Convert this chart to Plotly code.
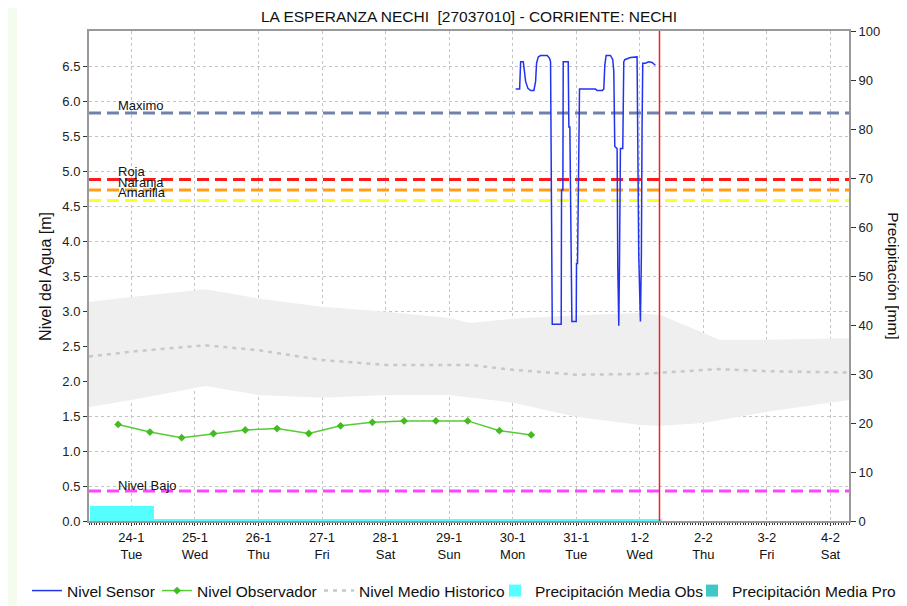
import plotly.graph_objects as go

# ---------------- data ----------------
title_text = "LA ESPERANZA NECHI  [27037010] - CORRIENTE: NECHI"

day_ticks = ["2017-01-24", "2017-01-25", "2017-01-26", "2017-01-27", "2017-01-28", "2017-01-29",
             "2017-01-30", "2017-01-31", "2017-02-01", "2017-02-02", "2017-02-03", "2017-02-04"]
day_labels = ["24-1<br>Tue", "25-1<br>Wed", "26-1<br>Thu", "27-1<br>Fri", "28-1<br>Sat", "29-1<br>Sun",
              "30-1<br>Mon", "31-1<br>Tue", "1-2<br>Wed", "2-2<br>Thu", "3-2<br>Fri", "4-2<br>Sat"]

sensor_time = [
    "2017-01-30 01:07", "2017-01-30 02:37", "2017-01-30 03:00", "2017-01-30 04:00", "2017-01-30 04:53",
    "2017-01-30 05:45", "2017-01-30 06:46", "2017-01-30 08:01", "2017-01-30 08:39", "2017-01-30 09:01",
    "2017-01-30 09:39", "2017-01-30 10:32", "2017-01-30 13:03", "2017-01-30 13:55", "2017-01-30 14:18",
    "2017-01-30 14:41", "2017-01-30 14:56", "2017-01-30 18:19", "2017-01-30 18:27", "2017-01-30 18:57",
    "2017-01-30 19:05", "2017-01-30 20:58", "2017-01-30 21:13", "2017-01-30 21:35", "2017-01-30 21:58",
    "2017-01-30 22:21", "2017-01-30 23:59", "2017-01-31 00:06", "2017-01-31 00:29", "2017-01-31 00:44",
    "2017-01-31 00:59", "2017-01-31 01:14", "2017-01-31 07:16", "2017-01-31 07:54", "2017-01-31 09:47",
    "2017-01-31 10:24", "2017-01-31 10:47", "2017-01-31 11:17", "2017-01-31 12:55", "2017-01-31 13:48",
    "2017-01-31 14:11", "2017-01-31 14:33", "2017-01-31 15:26", "2017-01-31 15:41", "2017-01-31 16:04",
    "2017-01-31 16:19", "2017-01-31 16:41", "2017-01-31 17:34", "2017-01-31 17:57", "2017-01-31 18:19",
    "2017-01-31 20:28", "2017-01-31 22:58", "2017-01-31 23:13", "2017-01-31 23:36", "2017-02-01 00:14",
    "2017-02-01 00:36", "2017-02-01 00:51", "2017-02-01 01:07", "2017-02-01 02:07", "2017-02-01 03:22",
    "2017-02-01 04:38", "2017-02-01 05:53"]
sensor_level = [
    6.17, 6.17, 6.56, 6.56, 6.28,
    6.18, 6.15, 6.15, 6.28, 6.54,
    6.63, 6.65, 6.65, 6.61, 6.56,
    4.70, 2.81, 2.81, 4.73, 4.73,
    6.56, 6.56, 5.63, 5.63, 3.78,
    2.85, 2.85, 3.68, 3.68, 5.32,
    5.32, 6.17, 6.17, 6.15, 6.15,
    6.17, 6.51, 6.65, 6.65, 6.59,
    6.42, 5.35, 5.32, 3.63, 2.79,
    3.63, 5.32, 5.32, 6.56, 6.59,
    6.62, 6.63, 5.61, 3.80, 2.85,
    3.80, 5.61, 6.54, 6.54, 6.56,
    6.55, 6.51]

observer_time = ["2017-01-23 19:00", "2017-01-24 07:00", "2017-01-24 19:00", "2017-01-25 07:00",
                 "2017-01-25 19:00", "2017-01-26 07:00", "2017-01-26 19:00", "2017-01-27 07:00",
                 "2017-01-27 19:00", "2017-01-28 07:00", "2017-01-28 19:00", "2017-01-29 07:00",
                 "2017-01-29 19:00", "2017-01-30 07:00"]
observer_level = [1.38, 1.27, 1.19, 1.25, 1.30, 1.32, 1.25, 1.36, 1.41, 1.43, 1.43, 1.43, 1.29, 1.23]

hist_time = ["2017-01-23 08:00", "2017-01-24 00:00", "2017-01-25 04:00", "2017-01-26 00:00",
             "2017-01-27 00:00", "2017-01-28 00:00", "2017-01-29 00:00", "2017-01-29 08:00",
             "2017-01-30 00:00", "2017-01-31 00:00", "2017-02-01 00:00", "2017-02-01 08:00",
             "2017-02-02 00:00", "2017-02-02 06:00", "2017-02-03 00:00", "2017-02-04 07:00"]
hist_upper = [3.13, 3.20, 3.31, 3.18, 3.06, 2.99, 2.90, 2.83, 2.89, 2.94, 2.97, 2.94, 2.69, 2.59, 2.59, 2.61]
hist_mean = [2.35, 2.42, 2.51, 2.44, 2.30, 2.23, 2.23, 2.23, 2.16, 2.09, 2.10, 2.12, 2.15, 2.17, 2.14, 2.12]
hist_lower = [1.63, 1.73, 1.93, 1.80, 1.76, 1.80, 1.80, 1.76, 1.69, 1.49, 1.37, 1.36, 1.40, 1.44, 1.56, 1.73]

precip_time = ["2017-01-23 20:30", "2017-01-24 20:30", "2017-01-25 20:30", "2017-01-26 20:30",
               "2017-01-27 20:30", "2017-01-28 20:30", "2017-01-29 20:30", "2017-01-30 20:30",
               "2017-01-31 20:30"]
precip_obs = [3.06, 0.3, 0.3, 0.3, 0.3, 0.3, 0.3, 0.3, 0.3]
precip_pro = [0, 0, 0, 0, 0, 0, 0, 0, 0]

threshold_names = ["Maximo", "Roja", "Naranja", "Amarilla", "Nivel Bajo"]
threshold_values = [5.83, 4.88, 4.73, 4.58, 0.43]
threshold_colors = ["#7181a9", "#ff1a1a", "#ff9c1a", "#ffff22", "#ff44ff"]

now_time = "2017-02-01 07:26"
x_range = ["2017-01-23 08:00", "2017-02-04 07:00"]

# ---------------- figure ----------------
FONT = "Liberation Sans, Arial, sans-serif"
W, H = 899, 598   # page has an 8px body margin

fig = go.Figure()

# historic band
fig.add_trace(go.Scatter(x=hist_time, y=hist_lower, mode="lines", line=dict(width=0, color="#efefef"),
                         hoverinfo="skip", showlegend=False))
fig.add_trace(go.Scatter(x=hist_time, y=hist_upper, mode="lines", line=dict(width=0, color="#efefef"),
                         fill="tonexty", fillcolor="#efefef", hoverinfo="skip", showlegend=False))

# precipitation bars (right axis)
fig.add_trace(go.Bar(x=precip_time, y=precip_obs, width=86400000, marker=dict(color="#55ffff", line=dict(width=0)),
                     name="Precipitación Media Obs", yaxis="y2", legend="legend4"))
fig.add_trace(go.Bar(x=precip_time, y=precip_pro, width=86400000, marker=dict(color="#40c8c8", line=dict(width=0)),
                     name="Precipitación Media Pro", yaxis="y2", legend="legend5"))

# threshold lines
for nm, val, col in zip(threshold_names, threshold_values, threshold_colors):
    fig.add_trace(go.Scatter(x=x_range, y=[val, val], mode="lines",
                             line=dict(color=col, width=3, dash="12px,6px"),
                             showlegend=False, hoverinfo="skip"))

# historic mean
fig.add_trace(go.Scatter(x=hist_time, y=hist_mean, mode="lines",
                         line=dict(color="#c8c8c8", width=2.5, dash="4px,5px"),
                         name="Nivel Medio Historico", legend="legend3"))

# observer
fig.add_trace(go.Scatter(x=observer_time, y=observer_level, mode="lines+markers",
                         line=dict(color="#55cc33", width=1.5),
                         marker=dict(symbol="diamond", size=6, color="#44bb22"),
                         name="Nivel Observador", legend="legend2"))

# sensor
fig.add_trace(go.Scatter(x=sensor_time, y=sensor_level, mode="lines",
                         line=dict(color="#2233ee", width=1.5),
                         name="Nivel Sensor", legend="legend"))

# current time line
fig.add_shape(type="line", xref="x", yref="paper", x0=now_time, x1=now_time, y0=0, y1=1,
              line=dict(color="#ee2222", width=1.5))

# left light-green strip
fig.add_shape(type="rect", xref="paper", yref="paper", x0=-0.12, x1=-0.0947, y0=-0.2, y1=1.07,
              fillcolor="#f4fcf0", line=dict(width=0), layer="below")

annotations = []
label_y = [5.93, 5.00, 4.84, 4.69, 0.51]
for nm, yy in zip(threshold_names, label_y):
    annotations.append(dict(x=0.036, y=yy, xref="paper", yref="y", text=nm, showarrow=False,
                            xanchor="left", yanchor="middle", font=dict(size=13, color="#111", family=FONT)))
annotations.append(dict(x=-0.058, y=0.5, xref="paper", yref="paper", text="Nivel del Agua [m]",
                        showarrow=False, textangle=-90, xanchor="center", yanchor="middle",
                        font=dict(size=16, color="#111", family=FONT)))
annotations.append(dict(x=1.059, y=0.5, xref="paper", yref="paper", text="Precipitación [mm]",
                        showarrow=False, textangle=90, xanchor="center", yanchor="middle",
                        font=dict(size=15.5, color="#111", family=FONT)))


def leg(text_left_page):
    return dict(orientation="h", xref="container", yref="container",
                x=(text_left_page - 8 - 40) / W, xanchor="left", y=1 - 583 / H, yanchor="middle",
                font=dict(size=15.5, color="#111", family=FONT), itemwidth=30,
                bgcolor="rgba(0,0,0,0)")


fig.update_layout(
    width=W, height=H,
    margin=dict(l=81, r=58, t=23, b=85, autoexpand=False),
    paper_bgcolor="white", plot_bgcolor="white",
    title=dict(text=title_text, x=461 / W, xanchor="center", y=1 - 8.5 / H, yanchor="middle",
               xref="container", yref="container",
               font=dict(size=15.5, color="#111", family=FONT)),
    font=dict(family=FONT, size=12, color="#222"),
    barmode="overlay",
    bargap=0,
    showlegend=True,
    legend=leg(67), legend2=leg(197), legend3=leg(359), legend4=leg(535), legend5=leg(732),
    annotations=annotations,
    xaxis=dict(type="date", range=x_range, tickvals=day_ticks, ticktext=day_labels,
               showgrid=True, gridcolor="#c4c4c4", griddash="dot", gridwidth=1,
               ticks="outside", ticklen=3, tickcolor="#333",
               minor=dict(ticks="outside", ticklen=2, dtick=3600000, tickcolor="#333", showgrid=False),
               showline=True, linecolor="#999999", linewidth=2, mirror=True, automargin=False,
               tickfont=dict(size=13, color="#111"), zeroline=False),
    yaxis=dict(range=[0, 7.0], tickvals=[0, 0.5, 1, 1.5, 2, 2.5, 3, 3.5, 4, 4.5, 5, 5.5, 6, 6.5],
               ticktext=["0.0", "0.5", "1.0", "1.5", "2.0", "2.5", "3.0", "3.5", "4.0", "4.5",
                         "5.0", "5.5", "6.0", "6.5"],
               showgrid=True, gridcolor="#c4c4c4", griddash="dot", gridwidth=1,
               ticks="outside", ticklen=4, tickcolor="#333", automargin=False,
               showline=True, linecolor="#999999", linewidth=2, zeroline=False,
               tickfont=dict(size=13, color="#222")),
    yaxis2=dict(range=[0, 100], overlaying="y", side="right", dtick=10,
                showgrid=False, ticks="outside", ticklen=5, tickcolor="#333", automargin=False,
                showline=True, linecolor="#999999", linewidth=2, zeroline=False,
                tickfont=dict(size=13, color="#222")),
)

fig.write_html("out.html")
